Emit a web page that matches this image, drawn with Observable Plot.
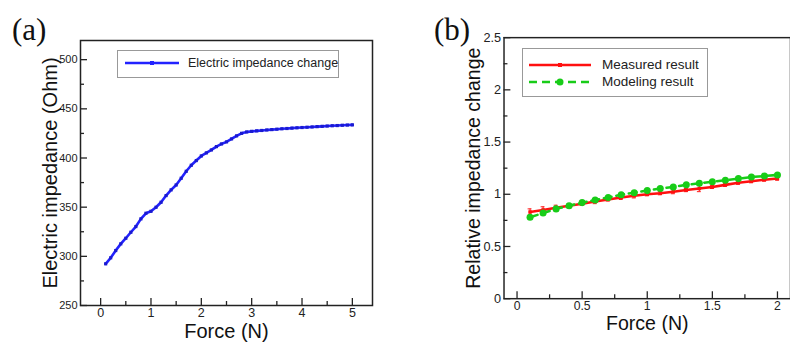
<!DOCTYPE html>
<html><head><meta charset="utf-8">
<script src="https://cdn.jsdelivr.net/npm/d3@7"></script>
<script src="https://cdn.jsdelivr.net/npm/@observablehq/plot@0.6"></script>
<style>
html,body{margin:0;padding:0;background:#fff;overflow:hidden;}
#wrap{position:relative;width:790px;height:342px;overflow:hidden;font-family:Arial,"Liberation Sans",sans-serif;}
.panel{position:absolute;top:0;}
.panel svg{overflow:visible;}
.tag{position:absolute;font-family:"Liberation Serif","Times New Roman",serif;font-size:31px;line-height:1;color:#111;}
.legend{position:absolute;border:1px solid #999;background:#fff;box-sizing:border-box;}
.item{position:absolute;display:flex;align-items:center;white-space:nowrap;color:#222;}
.item svg{flex:none;}
</style></head>
<body>
<div id="wrap">
  <div class="panel" id="pa" style="left:0"></div>
  <div class="panel" id="pb" style="left:395px"></div>
  <div class="tag" style="left:12px;top:14px">(a)</div>
  <div class="tag" style="left:434px;top:14px">(b)</div>
  <div class="legend" id="lega" style="left:117px;top:50px;width:222px;height:28px"></div>
  <div class="legend" id="legb" style="left:522px;top:48px;width:186px;height:49px"></div>
</div>
<script>
// ---------- Data (a) ----------
const forceA = [0.1,0.2,0.3,0.4,0.5,0.6,0.7,0.8,0.9,1.0,1.1,1.2,1.3,1.4,1.5,1.6,1.7,1.8,1.9,2.0,
  2.1,2.2,2.3,2.4,2.5,2.6,2.7,2.8,2.9,3.0,3.1,3.2,3.3,3.4,3.5,3.6,3.7,3.8,3.9,4.0,
  4.1,4.2,4.3,4.4,4.5,4.6,4.7,4.8,4.9,5.0];
const impedanceA = [292.4,298.5,305.9,312.7,318.4,324.5,330.3,338.1,343.8,345.8,349.9,355.0,361.8,367.6,372.6,379.4,386.5,392.6,397.4,402.1,
  405.2,408.2,411.6,414.3,416.4,419.4,422.5,425.1,426.5,427.1,427.6,428.0,428.5,428.9,429.3,429.7,430.0,430.4,430.7,431.0,
  431.3,431.6,431.9,432.2,432.5,432.8,433.0,433.3,433.5,433.7];
const seriesA = "Electric impedance change";
const yTicksA = [250,300,350,400,450,500];
const yMinorA = [275,325,375,425,475];
const xTicksA = [0,1,2,3,4,5];
const xMinorA = [0.5,1.5,2.5,3.5,4.5];

// ---------- Data (b) ----------
const forceB = [0.1,0.2,0.3,0.4,0.5,0.6,0.7,0.8,0.9,1.0,1.1,1.2,1.3,1.4,1.5,1.6,1.7,1.8,1.9,2.0];
const measured = [0.83,0.85,0.87,0.89,0.91,0.93,0.95,0.97,0.985,1.0,1.01,1.025,1.04,1.055,1.07,1.09,1.11,1.125,1.14,1.15];
const measuredErr = [0.03,0.03,0.025,0.02,0.015,0.02,0.015,0.02,0.02,0.015,0.015,0.02,0.015,0.03,0.015,0.015,0.015,0.015,0.015,0.015];
const modeling = [0.78,0.82,0.86,0.89,0.92,0.945,0.97,0.995,1.015,1.035,1.055,1.07,1.09,1.105,1.12,1.135,1.15,1.165,1.175,1.185];
const seriesB = ["Measured result","Modeling result"];
const yTicksB = [0,0.5,1,1.5,2,2.5];
const yMinorB = [0.25,0.75,1.25,1.75,2.25];
const xTicksB = [0,0.5,1,1.5,2];
const xMinorB = [0.25,0.75,1.25,1.75];

const BLUE = "#2222ff", RED = "#ff1010", GREEN = "#18cc18", FRAME = "#222";
const fmt = d => String(d);

function inwardTicks(xd, yd, w, h, ml, mr, mt, mb, xMaj, xMin, yMaj, yMin) {
  const ux = (xd[1]-xd[0])/(w-ml-mr), uy = (yd[1]-yd[0])/(h-mt-mb);
  const L = 7, S = 4;
  return [
    Plot.ruleY(yMaj, {y: d=>d, x1: xd[0], x2: xd[0]+L*ux, stroke: FRAME, strokeWidth: 1.3}),
    Plot.ruleY(yMin, {y: d=>d, x1: xd[0], x2: xd[0]+S*ux, stroke: FRAME, strokeWidth: 1.3}),
    Plot.ruleX(xMaj, {x: d=>d, y1: yd[0], y2: yd[0]+L*uy, stroke: FRAME, strokeWidth: 1.3}),
    Plot.ruleX(xMin, {x: d=>d, y1: yd[0], y2: yd[0]+S*uy, stroke: FRAME, strokeWidth: 1.3})
  ];
}
function titles(yLabel, dxY) {
  return [
    Plot.text([yLabel],{text:d=>d,frameAnchor:"left",rotate:-90,dx:dxY,fontSize:20,fill:"#111",textAnchor:"middle",lineAnchor:"middle"}),
    Plot.text(["Force (N)"],{text:d=>d,frameAnchor:"bottom",dy:26,fontSize:20,fill:"#111",textAnchor:"middle",lineAnchor:"middle"})
  ];
}

// ---------- Panel (a) ----------
{
  const w=395,h=342,ml=80,mr=23,mt=40,mb=37, xd=[-0.4,5.4], yd=[250,519.5];
  const data = forceA.map((f,i)=>({f, v: impedanceA[i]}));
  const p = Plot.plot({
    width:w,height:h,marginLeft:ml,marginRight:mr,marginTop:mt,marginBottom:mb,
    x:{domain:xd}, y:{domain:yd},
    style:{fontFamily:"Arial, 'Liberation Sans', sans-serif",background:"transparent",color:"#222"},
    marks:[
      Plot.frame({stroke:FRAME,strokeWidth:1.5}),
      Plot.axisY(yTicksA,{tickSize:0,tickPadding:3,fontSize:11,label:null,tickFormat:fmt}),
      Plot.axisX(xTicksA,{tickSize:0,tickPadding:3,fontSize:12.5,label:null,tickFormat:fmt}),
      ...inwardTicks(xd,yd,w,h,ml,mr,mt,mb,xTicksA,xMinorA,yTicksA,yMinorA),
      Plot.line(data,{x:"f",y:"v",stroke:BLUE,strokeWidth:2.6}),
      Plot.dot(data,{x:"f",y:"v",symbol:"square",r:1.8,fill:"#1a1ad0"}),
      ...titles("Electric impedance (Ohm)", -30)
    ]
  });
  document.getElementById("pa").appendChild(p);
}

// ---------- Panel (b) ----------
{
  const w=404,h=342,ml=111,mr=0,mt=38,mb=37, xd=[-0.1,2.1], yd=[0,2.5];
  const meas = forceB.map((f,i)=>({f, v: measured[i], e: measuredErr[i]}));
  const mod = forceB.map((f,i)=>({f, v: modeling[i]}));
  const p = Plot.plot({
    width:w,height:h,marginLeft:ml,marginRight:mr,marginTop:mt,marginBottom:mb,
    x:{domain:xd}, y:{domain:yd},
    style:{fontFamily:"Arial, 'Liberation Sans', sans-serif",background:"transparent",color:"#222"},
    marks:[
      Plot.frame({stroke:FRAME,strokeWidth:1.5}),
      Plot.axisY(yTicksB,{tickSize:0,tickPadding:3,fontSize:13,label:null,tickFormat:fmt}),
      Plot.axisX(xTicksB,{tickSize:0,tickPadding:3,fontSize:12.5,label:null,tickFormat:fmt}),
      ...inwardTicks(xd,yd,w,h,ml,mr,mt,mb,xTicksB,xMinorB,yTicksB,yMinorB),
      Plot.ruleX(meas,{x:"f",y1:d=>d.v-d.e,y2:d=>d.v+d.e,stroke:RED,strokeWidth:1}),
      Plot.ruleY(meas,{y:d=>d.v+d.e,x1:d=>d.f-0.015,x2:d=>d.f+0.015,stroke:RED,strokeWidth:1}),
      Plot.ruleY(meas,{y:d=>d.v-d.e,x1:d=>d.f-0.015,x2:d=>d.f+0.015,stroke:RED,strokeWidth:1}),
      Plot.line(meas,{x:"f",y:"v",stroke:RED,strokeWidth:2.6}),
      Plot.dot(meas,{x:"f",y:"v",symbol:"square",r:2,fill:RED}),
      Plot.line(mod,{x:"f",y:"v",stroke:GREEN,strokeWidth:2.6,strokeDasharray:"8,5"}),
      Plot.dot(mod,{x:"f",y:"v",r:3.6,fill:GREEN}),
      ...titles("Relative impedance change", -31)
    ]
  });
  document.getElementById("pb").appendChild(p);
}

// ---------- Legends ----------
function item(parent, left, top, color, dash, marker, text, fs, w, gap) {
  const ns="http://www.w3.org/2000/svg";
  const d=document.createElement("div"); d.className="item";
  d.style.left=left+"px"; d.style.top=top+"px"; d.style.fontSize=fs+"px";
  const s=document.createElementNS(ns,"svg"); s.setAttribute("width",w); s.setAttribute("height",10);
  const l=document.createElementNS(ns,"line");
  l.setAttribute("x1",1);l.setAttribute("x2",w-1);l.setAttribute("y1",5);l.setAttribute("y2",5);
  l.setAttribute("stroke",color);l.setAttribute("stroke-width",2.6);
  if(dash) l.setAttribute("stroke-dasharray",dash);
  s.appendChild(l);
  if(marker==="circle"){const c=document.createElementNS(ns,"circle");c.setAttribute("cx",w/2);c.setAttribute("cy",5);c.setAttribute("r",3.5);c.setAttribute("fill",color);s.appendChild(c);}
  else {const r=document.createElementNS(ns,"rect");r.setAttribute("x",w/2-2);r.setAttribute("y",3);r.setAttribute("width",4);r.setAttribute("height",4);r.setAttribute("fill",color);s.appendChild(r);}
  d.appendChild(s);
  const t=document.createElement("span"); t.textContent=text; t.style.marginLeft=gap+"px";
  d.appendChild(t); parent.appendChild(d);
}
item(document.getElementById("lega"),6,5,BLUE,null,"square",seriesA,12.5,56,8);
item(document.getElementById("legb"),5,8,RED,null,"square",seriesB[0],13.5,64,10);
item(document.getElementById("legb"),5,25,GREEN,"8,5","circle",seriesB[1],13.5,64,10);
</script>
</body></html>
